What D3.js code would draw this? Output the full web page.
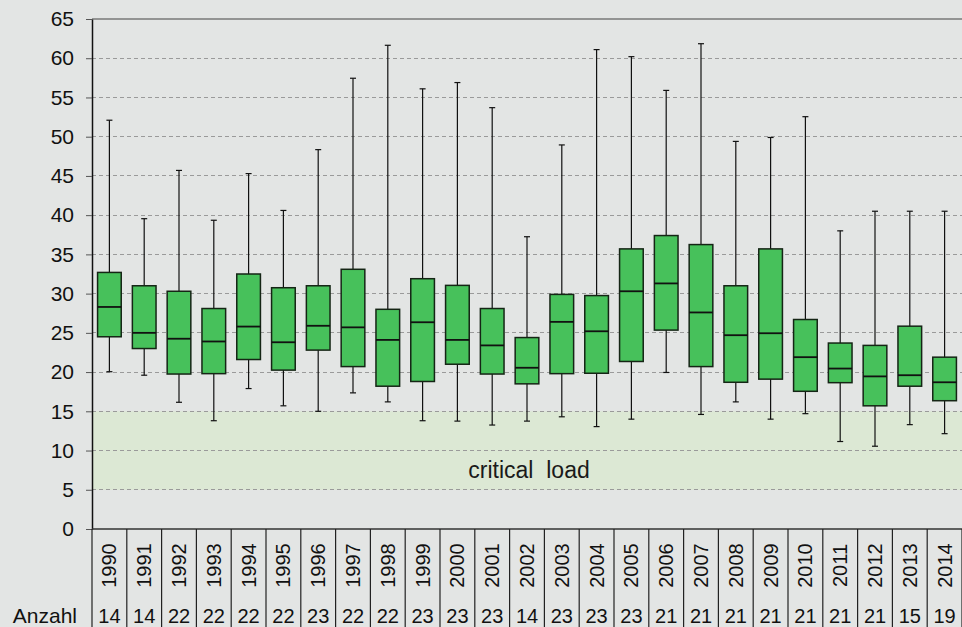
<!DOCTYPE html>
<html>
<head>
<meta charset="utf-8">
<script src="https://cdn.jsdelivr.net/npm/d3@7/dist/d3.min.js"></script>
<style>
  html, body { margin: 0; padding: 0; background: #e3e5e4; }
  svg { display: block; font-family: "Liberation Sans", Arial, sans-serif; }
</style>
</head>
<body>
<svg id="chart" width="962" height="627"></svg>
<script>
// Yearly distributions: whisker low, lower quartile, median, upper quartile, whisker high
const years = ["1990","1991","1992","1993","1994","1995","1996","1997","1998","1999",
               "2000","2001","2002","2003","2004","2005","2006","2007","2008","2009",
               "2010","2011","2012","2013","2014"];
const lowValues    = [20.05, 19.6, 16.15, 13.8, 17.9, 15.7, 15.0, 17.35, 16.2, 13.8,
                      13.75, 13.25, 13.75, 14.3, 13.05, 14.0, 19.95, 14.6, 16.2, 14.0,
                      14.7, 11.15, 10.55, 13.3, 12.15];
const q1Values     = [24.5, 23.0, 19.75, 19.8, 21.6, 20.25, 22.8, 20.7, 18.2, 18.8,
                      21.0, 19.75, 18.5, 19.8, 19.85, 21.35, 25.35, 20.7, 18.7, 19.1,
                      17.55, 18.65, 15.7, 18.2, 16.35];
const medianValues = [28.3, 25.0, 24.25, 23.9, 25.8, 23.8, 25.9, 25.7, 24.1, 26.35,
                      24.1, 23.4, 20.55, 26.4, 25.2, 30.3, 31.3, 27.6, 24.7, 24.95,
                      21.9, 20.45, 19.45, 19.6, 18.7];
const q3Values     = [32.7, 31.0, 30.3, 28.1, 32.5, 30.75, 31.0, 33.1, 28.0, 31.9,
                      31.05, 28.1, 24.4, 29.9, 29.75, 35.7, 37.4, 36.25, 31.0, 35.7,
                      26.7, 23.7, 23.4, 25.85, 21.9];
const highValues   = [52.1, 39.55, 45.7, 39.35, 45.3, 40.6, 48.35, 57.45, 61.65, 56.1,
                      56.9, 53.7, 37.25, 48.95, 61.1, 60.2, 55.9, 61.85, 49.4, 49.9,
                      52.55, 38.0, 40.5, 40.5, 40.5];
const counts       = [14, 14, 22, 22, 22, 22, 23, 22, 22, 23, 23, 23, 14, 23, 23, 23,
                      21, 21, 21, 21, 21, 21, 21, 15, 19];
const yTicks = [0, 5, 10, 15, 20, 25, 30, 35, 40, 45, 50, 55, 60, 65];
const criticalLoad = [5, 15];
const criticalLabel = "critical  load";
const countLabel = "Anzahl";

const rows = years.map((yr, i) => ({
  year: yr, lo: lowValues[i], q1: q1Values[i], med: medianValues[i],
  q3: q3Values[i], hi: highValues[i], n: counts[i]
}));

const svg = d3.select("#chart");
const plotLeft = 92, plotRight = 962, plotTop = 19, plotBottom = 529, fullH = 627;

const x = d3.scaleBand().domain(years).range([plotLeft, plotRight]).padding(0);
const y = d3.scaleLinear().domain([0, 65]).range([plotBottom, plotTop]);
const bw = x.bandwidth();
const boxW = bw * 0.68;
const capW = 6;

// critical load band
svg.append("rect")
  .attr("x", plotLeft).attr("width", plotRight - plotLeft)
  .attr("y", y(criticalLoad[1])).attr("height", y(criticalLoad[0]) - y(criticalLoad[1]))
  .attr("fill", "#dce8d4");

// horizontal grid
svg.append("g").selectAll("line")
  .data(yTicks.filter(t => t > 0 && t < 65))
  .join("line")
  .attr("x1", plotLeft).attr("x2", plotRight)
  .attr("y1", d => y(d)).attr("y2", d => y(d))
  .attr("stroke", "#9a9a9a").attr("stroke-width", 1)
  .attr("stroke-dasharray", "4,3")
  .attr("shape-rendering", "crispEdges");

svg.append("line")
  .attr("x1", plotLeft).attr("x2", plotRight)
  .attr("y1", y(65)).attr("y2", y(65))
  .attr("stroke", "#787878").attr("stroke-width", 1.5);

svg.append("text")
  .attr("x", 529).attr("y", y(7.5))
  .attr("text-anchor", "middle").attr("dominant-baseline", "central")
  .attr("font-size", 23).attr("fill", "#1a1a1a")
  .style("white-space", "pre")
  .text(criticalLabel);

// boxes
const g = svg.append("g").selectAll("g").data(rows).join("g")
  .attr("transform", d => `translate(${x(d.year) + bw / 2},0)`);

g.append("line")
  .attr("x1", 0).attr("x2", 0)
  .attr("y1", d => y(d.hi)).attr("y2", d => y(d.lo))
  .attr("stroke", "#111").attr("stroke-width", 1.2);
g.append("line")
  .attr("x1", -capW / 2).attr("x2", capW / 2)
  .attr("y1", d => y(d.hi)).attr("y2", d => y(d.hi))
  .attr("stroke", "#111").attr("stroke-width", 1.2);
g.append("line")
  .attr("x1", -capW / 2).attr("x2", capW / 2)
  .attr("y1", d => y(d.lo)).attr("y2", d => y(d.lo))
  .attr("stroke", "#111").attr("stroke-width", 1.2);
g.append("rect")
  .attr("x", -boxW / 2).attr("width", boxW)
  .attr("y", d => y(d.q3)).attr("height", d => y(d.q1) - y(d.q3))
  .attr("fill", "#47c15b").attr("stroke", "#152515").attr("stroke-width", 1.5);
g.append("line")
  .attr("x1", -boxW / 2).attr("x2", boxW / 2)
  .attr("y1", d => y(d.med)).attr("y2", d => y(d.med))
  .attr("stroke", "#111").attr("stroke-width", 1.8);

// y axis
const yAxis = svg.append("g")
  .attr("transform", `translate(${plotLeft},0)`)
  .call(d3.axisLeft(y).tickValues(yTicks).tickSize(6).tickPadding(12).tickSizeOuter(0));
yAxis.select(".domain").attr("stroke", "#111").attr("stroke-width", 1.5);
yAxis.selectAll(".tick line").attr("stroke", "#555");
yAxis.selectAll(".tick text")
  .attr("font-size", 21).attr("fill", "#111")
  .attr("font-family", "'Liberation Sans', Arial, sans-serif");

// baseline and category table below
svg.append("line")
  .attr("x1", plotLeft).attr("x2", plotRight)
  .attr("y1", plotBottom).attr("y2", plotBottom)
  .attr("stroke", "#333").attr("stroke-width", 1.5);

const edges = years.map(d => x(d)).concat([plotRight]);
svg.append("g").selectAll("line").data(edges).join("line")
  .attr("x1", d => d).attr("x2", d => d)
  .attr("y1", plotBottom).attr("y2", fullH)
  .attr("stroke", "#222").attr("stroke-width", 1.2);

svg.append("g").selectAll("text").data(years).join("text")
  .attr("transform", d => `translate(${x(d) + bw / 2},565.5) rotate(-90)`)
  .attr("text-anchor", "middle").attr("dominant-baseline", "central")
  .attr("font-size", 20).attr("fill", "#111")
  .text(d => d);

svg.append("g").selectAll("text").data(rows).join("text")
  .attr("x", d => x(d.year) + bw / 2).attr("y", 622.5)
  .attr("text-anchor", "middle")
  .attr("font-size", 20).attr("fill", "#111")
  .text(d => d.n);

svg.append("text")
  .attr("x", 77).attr("y", 622.5)
  .attr("text-anchor", "end")
  .attr("font-size", 21).attr("fill", "#111")
  .text(countLabel);
</script>
</body>
</html>
